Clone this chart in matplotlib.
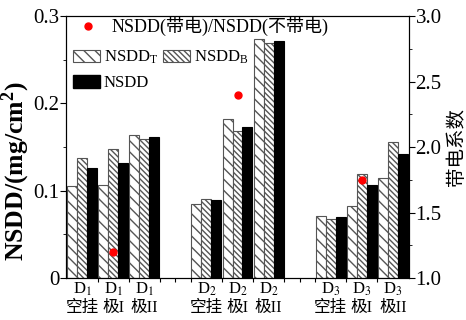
import matplotlib
matplotlib.use("Agg")
import matplotlib.pyplot as plt
from matplotlib.patches import Patch
from matplotlib.lines import Line2D

plt.rcParams['font.family'] = ['Liberation Serif', 'Noto Sans CJK SC']
plt.rcParams['mathtext.fontset'] = 'stix'

# data
positions = [1, 2, 3, 5, 6, 7, 9, 10, 11]
labels = ["D$_1$\n空挂", "D$_1$\n极I", "D$_1$\n极II",
          "D$_2$\n空挂", "D$_2$\n极I", "D$_2$\n极II",
          "D$_3$\n空挂", "D$_3$\n极I", "D$_3$\n极II"]
nsdd_t = [0.105, 0.106, 0.164, 0.085, 0.182, 0.274, 0.071, 0.082, 0.114]
nsdd_b = [0.137, 0.148, 0.159, 0.091, 0.168, 0.269, 0.068, 0.119, 0.156]
nsdd = [0.126, 0.132, 0.161, 0.089, 0.173, 0.271, 0.070, 0.107, 0.142]
ratio_pos = [2, 6, 10]
ratio = [1.20, 2.40, 1.75]

fig = plt.figure(figsize=(4.66, 3.2), dpi=100)
ax = fig.add_axes([0.1427, 0.131, 0.734, 0.819])

w = 0.32
ax.bar([p - w for p in positions], nsdd_t, w, facecolor="white",
       edgecolor="#555555", hatch="\\\\\\", linewidth=0.8)
ax.bar(positions, nsdd_b, w, facecolor="white",
       edgecolor="#555555", hatch="\\\\\\\\\\\\", linewidth=0.8)
ax.bar([p + w for p in positions], nsdd, w, facecolor="black",
       edgecolor="black", linewidth=0.8)

ax.set_xlim(0.5, 11.5)
ax.set_ylim(0, 0.3)
ax.set_yticks([0, 0.1, 0.2, 0.3])
ax.set_yticklabels(["0", "0.1", "0.2", "0.3"])
ax.set_yticks([0.05, 0.15, 0.25], minor=True)
ax.set_xticks(positions)
ax.set_xticklabels(labels, fontsize=12, linespacing=1.15)
ax.tick_params(axis="x", which="major", length=0, pad=2)
ax.tick_params(axis="y", which="major", length=4, direction="out", labelsize=15, pad=1)
ax.tick_params(axis="y", which="minor", length=2.5, direction="out")
ax.set_ylabel("NSDD/(mg/cm$^\\mathregular{2}$)", fontsize=18.5, fontweight="bold")
ax.yaxis.set_label_coords(-0.1, 0.41)

# small ticks between the categories
sec = ax.secondary_xaxis("bottom")
sec.set_xticks([1.5, 2.5, 3.5, 4, 4.5, 5.5, 6.5, 7.5, 8, 8.5, 9.5, 10.5])
sec.set_xticklabels([])
sec.tick_params(length=3, direction="out")
sec.spines["bottom"].set_visible(False)

ax2 = ax.twinx()
ax2.set_ylim(1.0, 3.0)
ax2.set_yticks([1.0, 1.5, 2.0, 2.5, 3.0])
ax2.set_yticklabels(["1.0", "1.5", "2.0", "2.5", "3.0"])
ax2.set_yticks([1.25, 1.75, 2.25, 2.75], minor=True)
ax2.tick_params(axis="y", which="major", length=4, direction="out", labelsize=15, pad=1)
ax2.tick_params(axis="y", which="minor", length=2.5, direction="out")
ax2.plot(ratio_pos, ratio, "o", color="red", markersize=5, linestyle="none")
ax2.set_ylabel("带电系数", fontsize=14, labelpad=4)

h_dot = Line2D([], [], marker="o", color="red", linestyle="none", markersize=5)
leg1 = ax2.legend([h_dot], ["NSDD(带电)/NSDD(不带电)"], loc="upper left",
                  bbox_to_anchor=(-0.01, 1.025), frameon=False, fontsize=13,
                  handletextpad=0.3, borderaxespad=0)
ax2.add_artist(leg1)
h_t = Patch(facecolor="white", edgecolor="#555555", hatch="\\\\\\", linewidth=0.8)
h_b = Patch(facecolor="white", edgecolor="#555555", hatch="\\\\\\\\\\\\", linewidth=0.8)
leg2 = ax2.legend([h_t, h_b], ["NSDD$_\\mathregular{T}$", "NSDD$_\\mathregular{B}$"],
                  loc="upper left", bbox_to_anchor=(0.0, 0.9), frameon=False,
                  fontsize=12, ncol=2, handlelength=1.6, handleheight=0.8,
                  handletextpad=0.25, columnspacing=0.3, borderaxespad=0)
ax2.add_artist(leg2)
h_n = Patch(facecolor="black", edgecolor="black")
ax2.legend([h_n], ["NSDD"], loc="upper left", bbox_to_anchor=(0.0, 0.8),
           frameon=False, fontsize=12, handlelength=1.6, handleheight=0.8,
           handletextpad=0.25, borderaxespad=0)

fig.savefig("out.png", dpi=100)
